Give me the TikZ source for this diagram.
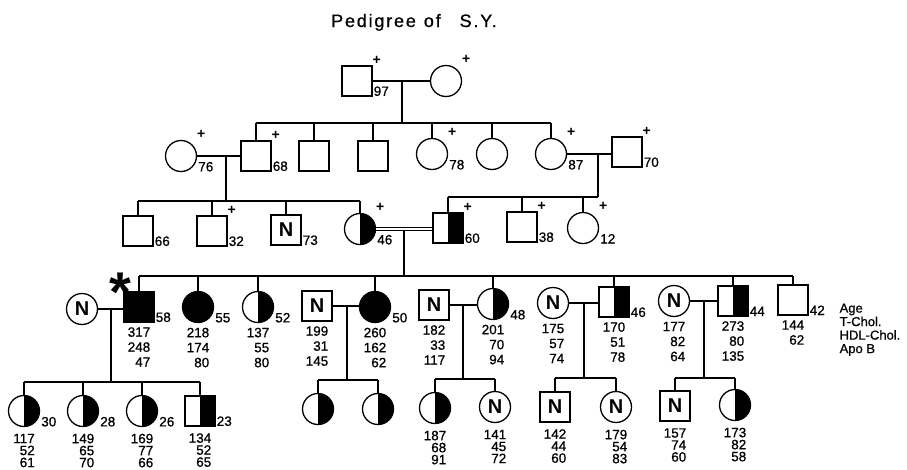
\documentclass[tikz,border=0pt]{standalone}
\usepackage{fontspec}
\setmainfont{Liberation Sans}
\newfontfamily\scanfont{Liberation Sans}[FakeBold=0.8]
\usetikzlibrary{positioning}

\tikzset{
  sq/.style={draw, rectangle, minimum size=30pt, inner sep=0pt},
  ci/.style={draw, circle, minimum size=31pt, inner sep=0pt},
  aff/.style={fill=black},
  half/.style={path picture={\fill (path picture bounding box.north) rectangle (path picture bounding box.south east);}},
  nrm/.style={font=\bfseries\fontsize{20}{20}\selectfont},
  agetxt/.style={font=\scanfont\fontsize{13.5}{13.5}\selectfont, inner sep=0pt},
  plus/.style={font=\bfseries\fontsize{14}{14}\selectfont, inner sep=0pt},
  vals/.style={font=\scanfont\fontsize{13.5}{15}\selectfont, inner sep=0pt, align=right},
  valsV/.style={vals, font=\scanfont\fontsize{13.5}{12}\selectfont},
}

\newcommand\deceased[1]{\node[plus, xshift=4pt, yshift=5pt] (#1-d) at (#1.east |- #1.north) {+};}
\newcommand\agelbl[2]{\node[agetxt, anchor=south west, xshift=.5pt] (#1-a) at (#1.east |- #1.south) {#2};}
\newcommand\labvals[2]{\node[vals, below=4pt of #1] (#1-v) {#2};}
\newcommand\labvalsV[2]{\node[valsV, below=6pt of #1] (#1-v) {#2};}

\begin{document}
\begin{tikzpicture}[x=1pt, y=-1pt, line width=1.3pt]
    \useasboundingbox (0,0) rectangle (907,469);

    % Title
    \node[font=\scanfont\fontsize{18}{18}\selectfont\addfontfeature{LetterSpace=10}, anchor=base] (title) at (414,27) {Pedigree\hspace{8pt}of\hspace{19pt}S.Y.};

    % Generation I
    \node[sq] (I1) at (357,81) {};
    \node[ci] (I2) at (446,81) {};
    \deceased{I1} \deceased{I2}
    \agelbl{I1}{97}

    % Generation II
    \node[ci] (II1) at (181,156) {};
    \node[sq] (II2) at (256,156) {};
    \node[sq] (II3) at (314,156) {};
    \node[sq] (II4) at (373,156) {};
    \node[ci] (II5) at (432,154) {};
    \node[ci] (II6) at (492,154) {};
    \node[ci] (II7) at (551,154) {};
    \node[sq] (II8) at (627,152) {};
    \deceased{II1} \deceased{II2} \deceased{II5} \deceased{II7} \deceased{II8}
    \agelbl{II1}{76} \agelbl{II2}{68} \agelbl{II5}{78} \agelbl{II7}{87} \agelbl{II8}{70}

    % Generation III
    \node[sq] (III1) at (138,231) {};
    \node[sq] (III2) at (212,231) {};
    \node[sq, nrm] (III3) at (286,230) {N};
    \node[ci, half] (III4) at (360,229) {};
    \node[sq, half] (III5) at (448,228) {};
    \node[sq] (III6) at (522,227) {};
    \node[ci] (III7) at (583,228) {};
    \deceased{III2} \deceased{III4} \deceased{III5} \deceased{III6} \deceased{III7}
    \agelbl{III1}{66} \agelbl{III2}{32} \agelbl{III3}{73} \agelbl{III4}{46}
    \agelbl{III5}{60} \agelbl{III6}{38} \agelbl{III7}{12}

    % Generation IV
    \node[ci, nrm] (IV1) at (82,309) {N};
    \node[sq, aff] (IV2) at (139,307) {};
    \node[ci, aff] (IV3) at (198,307) {};
    \node[ci, half] (IV4) at (258,307) {};
    \node[sq, nrm] (IV5) at (317,306) {N};
    \node[ci, aff] (IV6) at (375,307) {};
    \node[sq, nrm] (IV7) at (434,305) {N};
    \node[ci, half] (IV8) at (493,304) {};
    \node[ci, nrm] (IV9) at (553,303) {N};
    \node[sq, half] (IV10) at (614,302) {};
    \node[ci, nrm] (IV11) at (674,301) {N};
    \node[sq, half] (IV12) at (733,301) {};
    \node[sq] (IV13) at (793,300) {};
    \node[font=\bfseries\fontsize{56}{56}\selectfont, inner sep=0pt, anchor=north] (star) at (120,272) {*};
    \agelbl{IV2}{58} \agelbl{IV3}{55} \agelbl{IV4}{52} \agelbl{IV6}{50}
    \agelbl{IV8}{48} \agelbl{IV10}{46} \agelbl{IV12}{44} \agelbl{IV13}{42}
    \labvals{IV2}{317\\248\\47}
    \labvals{IV3}{218\\174\\80}
    \labvals{IV4}{137\\55\\80}
    \labvals{IV5}{199\\31\\145}
    \labvals{IV6}{260\\162\\62}
    \labvals{IV7}{182\\33\\117}
    \labvals{IV8}{201\\70\\94}
    \labvals{IV9}{175\\57\\74}
    \labvals{IV10}{170\\51\\78}
    \labvals{IV11}{177\\82\\64}
    \labvals{IV12}{273\\80\\135}
    \labvals{IV13}{144\\62}
    \node[font=\scanfont\fontsize{13}{13.5}\selectfont, inner sep=0pt, align=left, anchor=north west] (key) at (839,303) {Age\\T-Chol.\\HDL-Chol.\\Apo B};

    % Generation V
    \node[ci, half] (V1) at (24,411) {};
    \node[ci, half] (V2) at (83,411) {};
    \node[ci, half] (V3) at (142,411) {};
    \node[sq, half] (V4) at (200,411) {};
    \node[ci, half] (V5) at (318,409) {};
    \node[ci, half] (V6) at (378,409) {};
    \node[ci, half] (V7) at (435,408) {};
    \node[ci, nrm] (V8) at (495,407) {N};
    \node[sq, nrm] (V9) at (555,407) {N};
    \node[ci, nrm] (V10) at (616,407) {N};
    \node[sq, nrm] (V11) at (675,406) {N};
    \node[ci, half] (V12) at (735,405) {};
    \agelbl{V1}{30} \agelbl{V2}{28} \agelbl{V3}{26} \agelbl{V4}{23}
    \labvalsV{V1}{117\\52\\61}
    \labvalsV{V2}{149\\65\\70}
    \labvalsV{V3}{169\\77\\66}
    \labvalsV{V4}{134\\52\\65}
    \labvalsV{V7}{187\\68\\91}
    \labvalsV{V8}{141\\45\\72}
    \labvalsV{V9}{142\\44\\60}
    \labvalsV{V10}{179\\54\\83}
    \labvalsV{V11}{157\\74\\60}
    \labvalsV{V12}{173\\82\\58}

    % Marriage lines
    \draw (I1.east) -- (I1.east -| I2.west);
    \draw (II1.east) -- (II1.east -| II2.west);
    \draw (II7.east) -- (II7.east -| II8.west);
    \draw[double, double distance=2.2pt, line width=1.1pt] (III4.east) -- (III4.east -| III5.west);
    \draw (IV1.east) -- (IV1.east -| IV2.west);
    \draw (IV5.east) -- (IV5.east -| IV6.west);
    \draw (IV7.east) -- (IV7.east -| IV8.west);
    \draw (IV9.east) -- (IV9.east -| IV10.west);
    \draw (IV11.east) -- (IV11.east -| IV12.west);

    % Descent lines
    \coordinate (m1) at (402,81);    \coordinate (s1) at (402,123);
    \coordinate (m2) at (226,156);   \coordinate (s2) at (226,201);
    \coordinate (m3) at (598,154);   \coordinate (s3) at (598,197);
    \coordinate (m4) at (404,230.5); \coordinate (s4) at (404,276);
    \coordinate (m5) at (111,309);   \coordinate (s5) at (111,382);
    \coordinate (m6) at (347,306);   \coordinate (s6) at (347,380);
    \coordinate (m7) at (463,305);   \coordinate (s7) at (463,379);
    \coordinate (m8) at (584,303);   \coordinate (s8) at (584,378);
    \coordinate (m9) at (704,301);   \coordinate (s9) at (704,378);
    \foreach \i in {1,...,9}
        \draw (m\i) -- (s\i);

    \draw (II2.north |- s1) -- (II7.north |- s1);
    \foreach \k in {II2,II3,II4,II5,II6,II7}
        \draw (\k.north) -- (\k.north |- s1);

    \draw (III1.north |- s2) -- (III4.north |- s2);
    \foreach \k in {III1,III2,III3,III4}
        \draw (\k.north) -- (\k.north |- s2);

    \draw (III5.north |- s3) -- (s3);
    \foreach \k in {III5,III6,III7}
        \draw (\k.north) -- (\k.north |- s3);

    \draw (IV2.north |- s4) -- (IV13.north |- s4);
    \foreach \k in {IV2,IV3,IV4,IV6,IV8,IV10,IV12,IV13}
        \draw (\k.north) -- (\k.north |- s4);

    \draw (V1.north |- s5) -- (V4.north |- s5);
    \foreach \k in {V1,V2,V3,V4}
        \draw (\k.north) -- (\k.north |- s5);

    \draw (V5.north |- s6) -- (V6.north |- s6);
    \draw (V7.north |- s7) -- (V8.north |- s7);
    \draw (V9.north |- s8) -- (V10.north |- s8);
    \draw (V11.north |- s9) -- (V12.north |- s9);
    \foreach \k/\s in {V5/s6,V6/s6,V7/s7,V8/s7,V9/s8,V10/s8,V11/s9,V12/s9}
        \draw (\k.north) -- (\k.north |- \s);
\end{tikzpicture}
\end{document}
